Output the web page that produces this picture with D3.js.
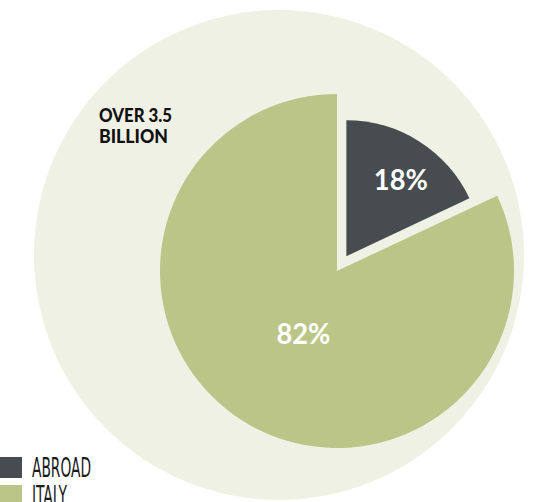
<!DOCTYPE html>
<html>
<head>
<meta charset="utf-8">
<script src="https://cdn.jsdelivr.net/npm/d3@7"></script>
<style>
  html, body { margin: 0; padding: 0; background: #ffffff; }
  svg { display: block; }
</style>
</head>
<body>
<svg id="chart" width="537" height="502"></svg>
<script>
const categories = ["ABROAD", "ITALY"];
const values = [18, 82];
const valueLabels = ["18%", "82%"];
const totalLabel = ["OVER 3.5", "BILLION"];
const colors = ["#464c4f", "#bac587"];

const svg = d3.select("#chart");

// background circle (the total)
svg.append("circle")
  .attr("cx", 279).attr("cy", 255).attr("r", 245)
  .attr("fill", "#eff1e5");

const cx = 337, cy = 271;
const data = categories.map((c, i) => ({ name: c, value: values[i], label: valueLabels[i], color: colors[i] }));
const pie = d3.pie().sort(null).value(d => d.value).startAngle(0).endAngle(2 * Math.PI);
const arcs = pie(data);

const radius = { ABROAD: 136, ITALY: 177 };
const explode = { ABROAD: 17.5, ITALY: 0 };
const labelR = { ABROAD: 96, ITALY: 72 };
const labelNudge = { ABROAD: [3, 4], ITALY: [5, 2] };

const g = svg.append("g").attr("transform", `translate(${cx},${cy})`);

const sliceG = g.selectAll("g.slice").data(arcs).enter().append("g")
  .attr("class", "slice")
  .attr("transform", d => {
    const a = (d.startAngle + d.endAngle) / 2;
    const o = explode[d.data.name];
    return `translate(${o * Math.sin(a)},${-o * Math.cos(a)})`;
  });

sliceG.append("path")
  .attr("d", d => d3.arc().innerRadius(0).outerRadius(radius[d.data.name])(d))
  .attr("fill", d => d.data.color);

sliceG.append("text")
  .attr("transform", d => {
    const r = labelR[d.data.name];
    const c = d3.arc().innerRadius(r).outerRadius(r).centroid(d);
    const n = labelNudge[d.data.name];
    return `translate(${c[0] + n[0]},${c[1] + n[1]})`;
  })
  .attr("text-anchor", "middle")
  .attr("dy", "0.36em")
  .attr("fill", "#ffffff")
  .attr("font-family", "Lato, 'Open Sans', sans-serif")
  .attr("font-weight", 700)
  .attr("font-size", 29)
  .attr("textLength", 54)
  .attr("lengthAdjust", "spacingAndGlyphs")
  .text(d => d.data.label);

// total annotation
const totalWidths = [73, 69];
totalLabel.forEach((t, i) => {
  svg.append("text")
    .attr("x", 99).attr("y", 122 + i * 21)
    .attr("font-family", "Lato, 'Open Sans', sans-serif")
    .attr("font-weight", 900)
    .attr("font-size", 19.5)
    .attr("fill", "#111111")
    .attr("textLength", totalWidths[i])
    .attr("lengthAdjust", "spacingAndGlyphs")
    .text(t);
});

// legend
const leg = svg.append("g").attr("transform", "translate(0,457)");
const legItems = leg.selectAll("g").data(data).enter().append("g")
  .attr("transform", (d, i) => `translate(0,${i * 28})`);
legItems.append("rect")
  .attr("x", 0).attr("y", 0).attr("width", 22).attr("height", 21)
  .attr("fill", d => d.color);
legItems.append("text")
  .attr("x", 32).attr("y", 20)
  .attr("font-family", "'Liberation Sans Narrow', 'DejaVu Sans Condensed', 'Liberation Sans', sans-serif")
  .attr("font-size", 27)
  .attr("fill", "#1a1a1a")
  .attr("textLength", d => d.name === "ABROAD" ? 59 : 35)
  .attr("lengthAdjust", "spacingAndGlyphs")
  .text(d => d.name);
</script>
</body>
</html>
